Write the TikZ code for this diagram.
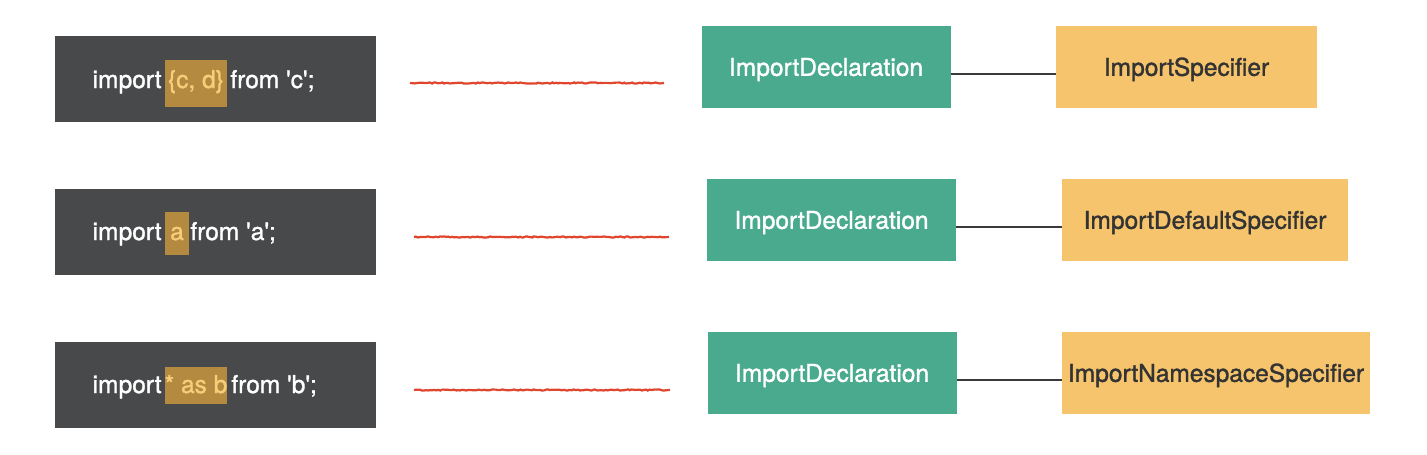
\documentclass[tikz,border=0pt]{standalone}
\usepackage{fontspec}
\setmainfont{TeX Gyre Heros}[FakeBold=1.3]
\usetikzlibrary{decorations.pathmorphing}
\definecolor{codebg}{HTML}{48494B}
\definecolor{hlbg}{HTML}{B38A40}
\definecolor{hltext}{HTML}{F7CD7A}
\definecolor{declgreen}{HTML}{4AAA8E}
\definecolor{specorange}{HTML}{F5C46C}
\definecolor{redline}{HTML}{E0452E}
\definecolor{linkgray}{HTML}{3A3A3A}
\definecolor{spectext}{HTML}{333333}
\begin{document}
\begin{tikzpicture}[x=1pt,y=-1pt,
  every node/.style={font=\fontsize{24.5}{28}\selectfont, inner sep=0pt},
  codebox/.style={fill=codebg, minimum width=321pt, minimum height=86pt},
  hlbox/.style={fill=hlbg, text=hltext},
  codetext/.style={text=white},
  decl/.style={fill=declgreen, text=white, minimum width=249pt, minimum height=82pt, text height=17.6pt, text depth=0pt},
  spec/.style={fill=specorange, text=spectext, minimum height=82pt, text height=17.6pt, text depth=0pt},
  wavy/.style={draw=redline, line width=2.2pt, decorate, decoration={random steps, segment length=2pt, amplitude=0.6pt}},
  link/.style={draw=linkgray, line width=2pt}]
\useasboundingbox (0,0) rectangle (1427,455);
\fill[white] (0,0) rectangle (1427,455);
% row 1
\node[codebox] (c1) at (215.5,79) {};
\node[hlbox, minimum width=62pt, minimum height=47pt] (h1) at (196,83.5) {};
\node[codetext, anchor=base, hltext] (h1t) at (196,88) {\{c, d\}};
\node[codetext, anchor=base east] (i1) at ([xshift=-3pt]h1.west |- h1t.base) {import};
\node[codetext, anchor=base west] (f1) at ([xshift=3pt]h1.east |- h1t.base) {from \textquotesingle c\textquotesingle;};
\node[decl] (d1) at (826,67) {ImportDeclaration};
\node[spec, minimum width=261pt] (s1) at (1186.5,67) {ImportSpecifier};
\coordinate (r1a) at (410,83);
\coordinate (r1b) at (664,83);
\draw[wavy] (r1a) -- (r1b);
\draw[link] ([yshift=-7pt]d1.east) -- ([yshift=-7pt]s1.west);
% row 2
\node[codebox] (c2) at (215.5,232) {};
\node[hlbox, minimum width=24pt, minimum height=43pt] (h2) at (177,233.5) {};
\node[codetext, anchor=base, hltext] (h2t) at (177,240) {a};
\node[codetext, anchor=base east] (i2) at ([xshift=-3pt]h2.west |- h2t.base) {import};
\node[codetext, anchor=base west] (f2) at ([xshift=1pt]h2.east |- h2t.base) {from \textquotesingle a\textquotesingle;};
\node[decl] (d2) at (831.5,220) {ImportDeclaration};
\node[spec, minimum width=286pt] (s2) at (1205,220) {ImportDefaultSpecifier};
\coordinate (r2a) at (414,237);
\coordinate (r2b) at (669,237);
\draw[wavy] (r2a) -- (r2b);
\draw[link] ([yshift=-7pt]d2.east) -- ([yshift=-7pt]s2.west);
% row 3
\node[codebox] (c3) at (215.5,385) {};
\node[hlbox, minimum width=62pt, minimum height=37pt] (h3) at (196,385) {};
\node[codetext, anchor=base, hltext] (h3t) at (196,393) {* as b};
\node[codetext, anchor=base east] (i3) at ([xshift=-3pt]h3.west |- h3t.base) {import};
\node[codetext, anchor=base west] (f3) at ([xshift=4pt]h3.east |- h3t.base) {from \textquotesingle b\textquotesingle;};
\node[decl] (d3) at (832,373) {ImportDeclaration};
\node[spec, minimum width=308pt] (s3) at (1216,373) {ImportNamespaceSpecifier};
\coordinate (r3a) at (414,390);
\coordinate (r3b) at (670,390);
\draw[wavy] (r3a) -- (r3b);
\draw[link] ([yshift=-7pt]d3.east) -- ([yshift=-7pt]s3.west);
\end{tikzpicture}
\end{document}
